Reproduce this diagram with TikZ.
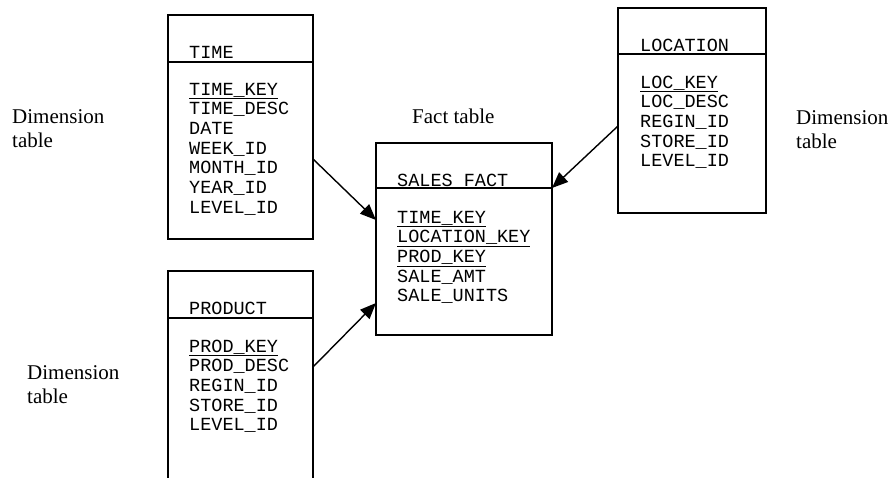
\documentclass[tikz,border=0pt]{standalone}
\usepackage{fontspec}
\setmainfont{Liberation Serif}
\setmonofont{Liberation Mono}
\usepackage{tikz}
\usetikzlibrary{arrows.meta}

\newcommand{\colfont}{\ttfamily\fontsize{18.5}{19.7}\selectfont}
\newcommand{\notefont}{\rmfamily\fontsize{21}{24}\selectfont}

\tikzset{
  tbl/.style={draw, line width=1.8pt, outer sep=0pt, inner sep=0pt, anchor=north west},
  tblname/.style={anchor=base west, inner sep=0pt, font=\colfont},
  cols/.style={anchor=base west, inner sep=0pt, align=left, font=\colfont},
  note/.style={anchor=base west, inner sep=0pt, align=left, font=\notefont},
  fk/.style={line width=1.4pt, -{Triangle[length=16pt,width=13pt]}}
}

\begin{document}
\begin{tikzpicture}[x=1pt, y=-1pt]
        \clip (0,0) rectangle (891,477);

        \node[tbl, minimum width=145pt, minimum height=224pt] (time) at (168,15) {};
        \draw[line width=1.8pt] ([yshift=-47pt]time.north west) -- ([yshift=-47pt]time.north east);
        \node[tblname] (timename) at (189,58) {TIME};
        \node[cols] (timecols) at (189,213.2) {
          \underline{TIME\_KEY}\\
          TIME\_DESC\\
          DATE\\
          WEEK\_ID\\
          MONTH\_ID\\
          YEAR\_ID\\
          LEVEL\_ID
        };

        \node[tbl, minimum width=145pt, minimum height=219pt] (product) at (168,271) {};
        \draw[line width=1.8pt] ([yshift=-47pt]product.north west) -- ([yshift=-47pt]product.north east);
        \node[tblname] (productname) at (189,314) {PRODUCT};
        \node[cols] (productcols) at (189,430.8) {
          \underline{PROD\_KEY}\\
          PROD\_DESC\\
          REGIN\_ID\\
          STORE\_ID\\
          LEVEL\_ID
        };

        \node[tbl, minimum width=176pt, minimum height=192pt] (fact) at (376,143) {};
        \draw[line width=1.8pt] ([yshift=-45pt]fact.north west) -- ([yshift=-45pt]fact.north east);
        \node[tblname] (factname) at (397,186) {SALES\_FACT};
        \node[cols] (factcols) at (397,301.8) {
          \underline{TIME\_KEY}\\
          \underline{LOCATION\_KEY}\\
          \underline{PROD\_KEY}\\
          SALE\_AMT\\
          SALE\_UNITS
        };

        \node[tbl, minimum width=148pt, minimum height=205pt] (location) at (618,8) {};
        \draw[line width=1.8pt] ([yshift=-46pt]location.north west) -- ([yshift=-46pt]location.north east);
        \node[tblname] (locationname) at (640,51) {LOCATION};
        \node[cols] (locationcols) at (640,166.8) {
          \underline{LOC\_KEY}\\
          LOC\_DESC\\
          REGIN\_ID\\
          STORE\_ID\\
          LEVEL\_ID
        };

        \node[note] (facttag) at (412,123) {Fact table};
        \node[note] (timetag) at (12,147) {Dimension\\table};
        \node[note] (producttag) at (27,403) {Dimension\\table};
        \node[note] (locationtag) at (796,148) {Dimension\\table};

        \draw[fk] ([yshift=-32pt]time.east) -- ([yshift=19pt]fact.west);
        \draw[fk] ([yshift=13.5pt]product.east) -- ([yshift=-64pt]fact.west);
        \draw[fk] ([yshift=-15.5pt]location.west) -- ([yshift=51pt]fact.east);
      \end{tikzpicture}
\end{document}
